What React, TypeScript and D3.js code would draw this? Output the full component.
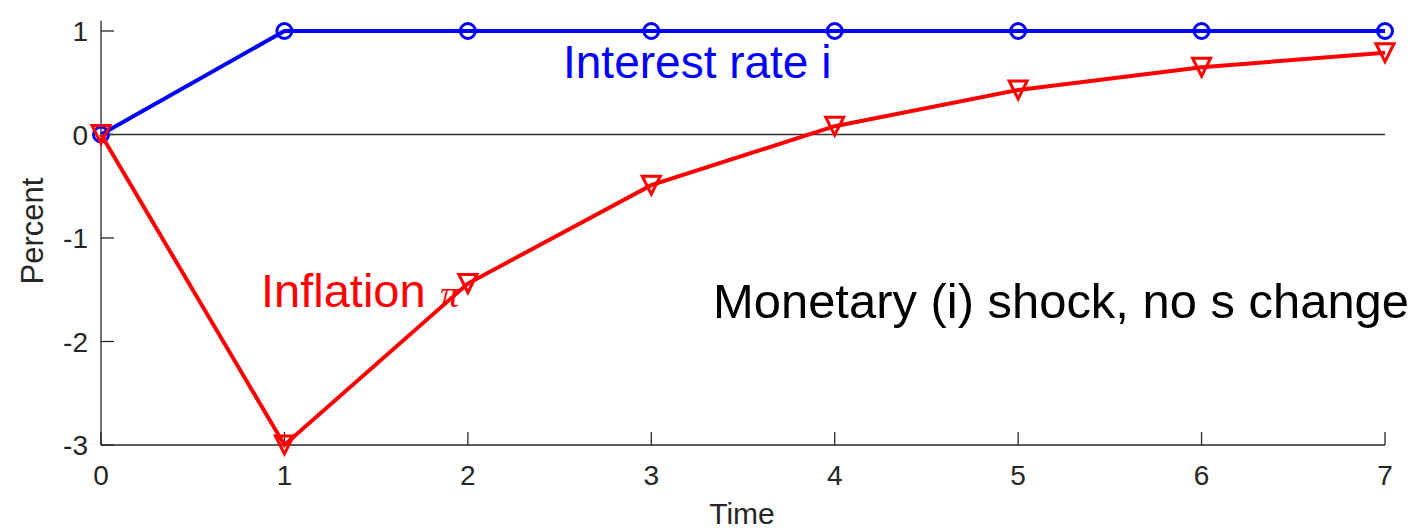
import React from "react";
import * as d3 from "d3";

const times = [0, 1, 2, 3, 4, 5, 6, 7];
const interestRate = [0, 1, 1, 1, 1, 1, 1, 1];
const inflation = [0, -3, -1.44, -0.49, 0.08, 0.43, 0.65, 0.79];
const xTicks = [0, 1, 2, 3, 4, 5, 6, 7];
const yTicks = [-3, -2, -1, 0, 1];

const W = 1416;
const H = 531;
const FONT = "'Liberation Sans', Arial, Helvetica, sans-serif";
const AX = "#262626";

export default function App() {
  const x = d3.scaleLinear().domain([0, 7]).range([101, 1385]);
  const y = d3.scaleLinear().domain([-3, 1]).range([445, 31]);
  const line = d3
    .line<[number, number]>()
    .x((d) => x(d[0]))
    .y((d) => y(d[1]));
  const iPts: [number, number][] = times.map((t, k) => [t, interestRate[k]]);
  const pPts: [number, number][] = times.map((t, k) => [t, inflation[k]]);
  const tri = (cx: number, cy: number) => {
    const h = 9;
    return `M${cx - h},${cy - h}L${cx + h},${cy - h}L${cx},${cy + h}Z`;
  };
  const yTop = y(1.1);

  return (
    <svg
      width={W}
      height={H}
      style={{ position: "absolute", left: 0, top: 0, background: "#fff" }}
      fontFamily={FONT}
    >
      {/* axes */}
      <line x1={x(0)} x2={x(0)} y1={yTop} y2={y(-3)} stroke={AX} strokeWidth={1.3} />
      <line x1={x(0)} x2={x(7)} y1={y(-3)} y2={y(-3)} stroke={AX} strokeWidth={1.3} />
      {yTicks.map((v) => (
        <g key={"y" + v}>
          <line x1={x(0)} x2={x(0) + 13} y1={y(v)} y2={y(v)} stroke={AX} strokeWidth={1.3} />
          <text x={x(0) - 13} y={y(v) + 10} textAnchor="end" fontSize={28} fill={AX}>
            {v}
          </text>
        </g>
      ))}
      {xTicks.map((v) => (
        <g key={"x" + v}>
          <line x1={x(v)} x2={x(v)} y1={y(-3)} y2={y(-3) - 13} stroke={AX} strokeWidth={1.3} />
          <text x={x(v)} y={y(-3) + 40} textAnchor="middle" fontSize={28} fill={AX}>
            {v}
          </text>
        </g>
      ))}
      <text x={742} y={524} textAnchor="middle" fontSize={30} fill={AX}>
        Time
      </text>
      <text
        transform={`translate(43,231) rotate(-90)`}
        textAnchor="middle"
        fontSize={31}
        fill={AX}
      >
        Percent
      </text>

      {/* zero line */}
      <line x1={x(0)} x2={x(7)} y1={y(0)} y2={y(0)} stroke="#333" strokeWidth={1.5} />

      {/* interest rate */}
      <path d={line(iPts) || ""} fill="none" stroke="#0000ff" strokeWidth={4} />
      {iPts.map((d, k) => (
        <circle key={"c" + k} cx={x(d[0])} cy={y(d[1])} r={7.5} fill="none" stroke="#0000ff" strokeWidth={3} />
      ))}

      {/* inflation */}
      <path d={line(pPts) || ""} fill="none" stroke="#ff0000" strokeWidth={4} />
      {pPts.map((d, k) => (
        <path key={"t" + k} d={tri(x(d[0]), y(d[1]))} fill="none" stroke="#ff0000" strokeWidth={3} strokeLinejoin="miter" />
      ))}

      {/* annotations */}
      <text x={563} y={78} fontSize={46} fill="#0000ff">
        Interest rate i
      </text>
      <text x={261} y={307} fontSize={47} fill="#ff0000">
        Inflation
      </text>
      <text x={440} y={307} fontSize={38} fontStyle="italic" fontFamily="'Liberation Serif', 'DejaVu Serif', serif" fill="#ff0000">
        π
      </text>
      <text x={713} y={318} fontSize={48} fill="#000" textLength={696} lengthAdjust="spacingAndGlyphs">
        Monetary (i) shock, no s change
      </text>
    </svg>
  );
}
